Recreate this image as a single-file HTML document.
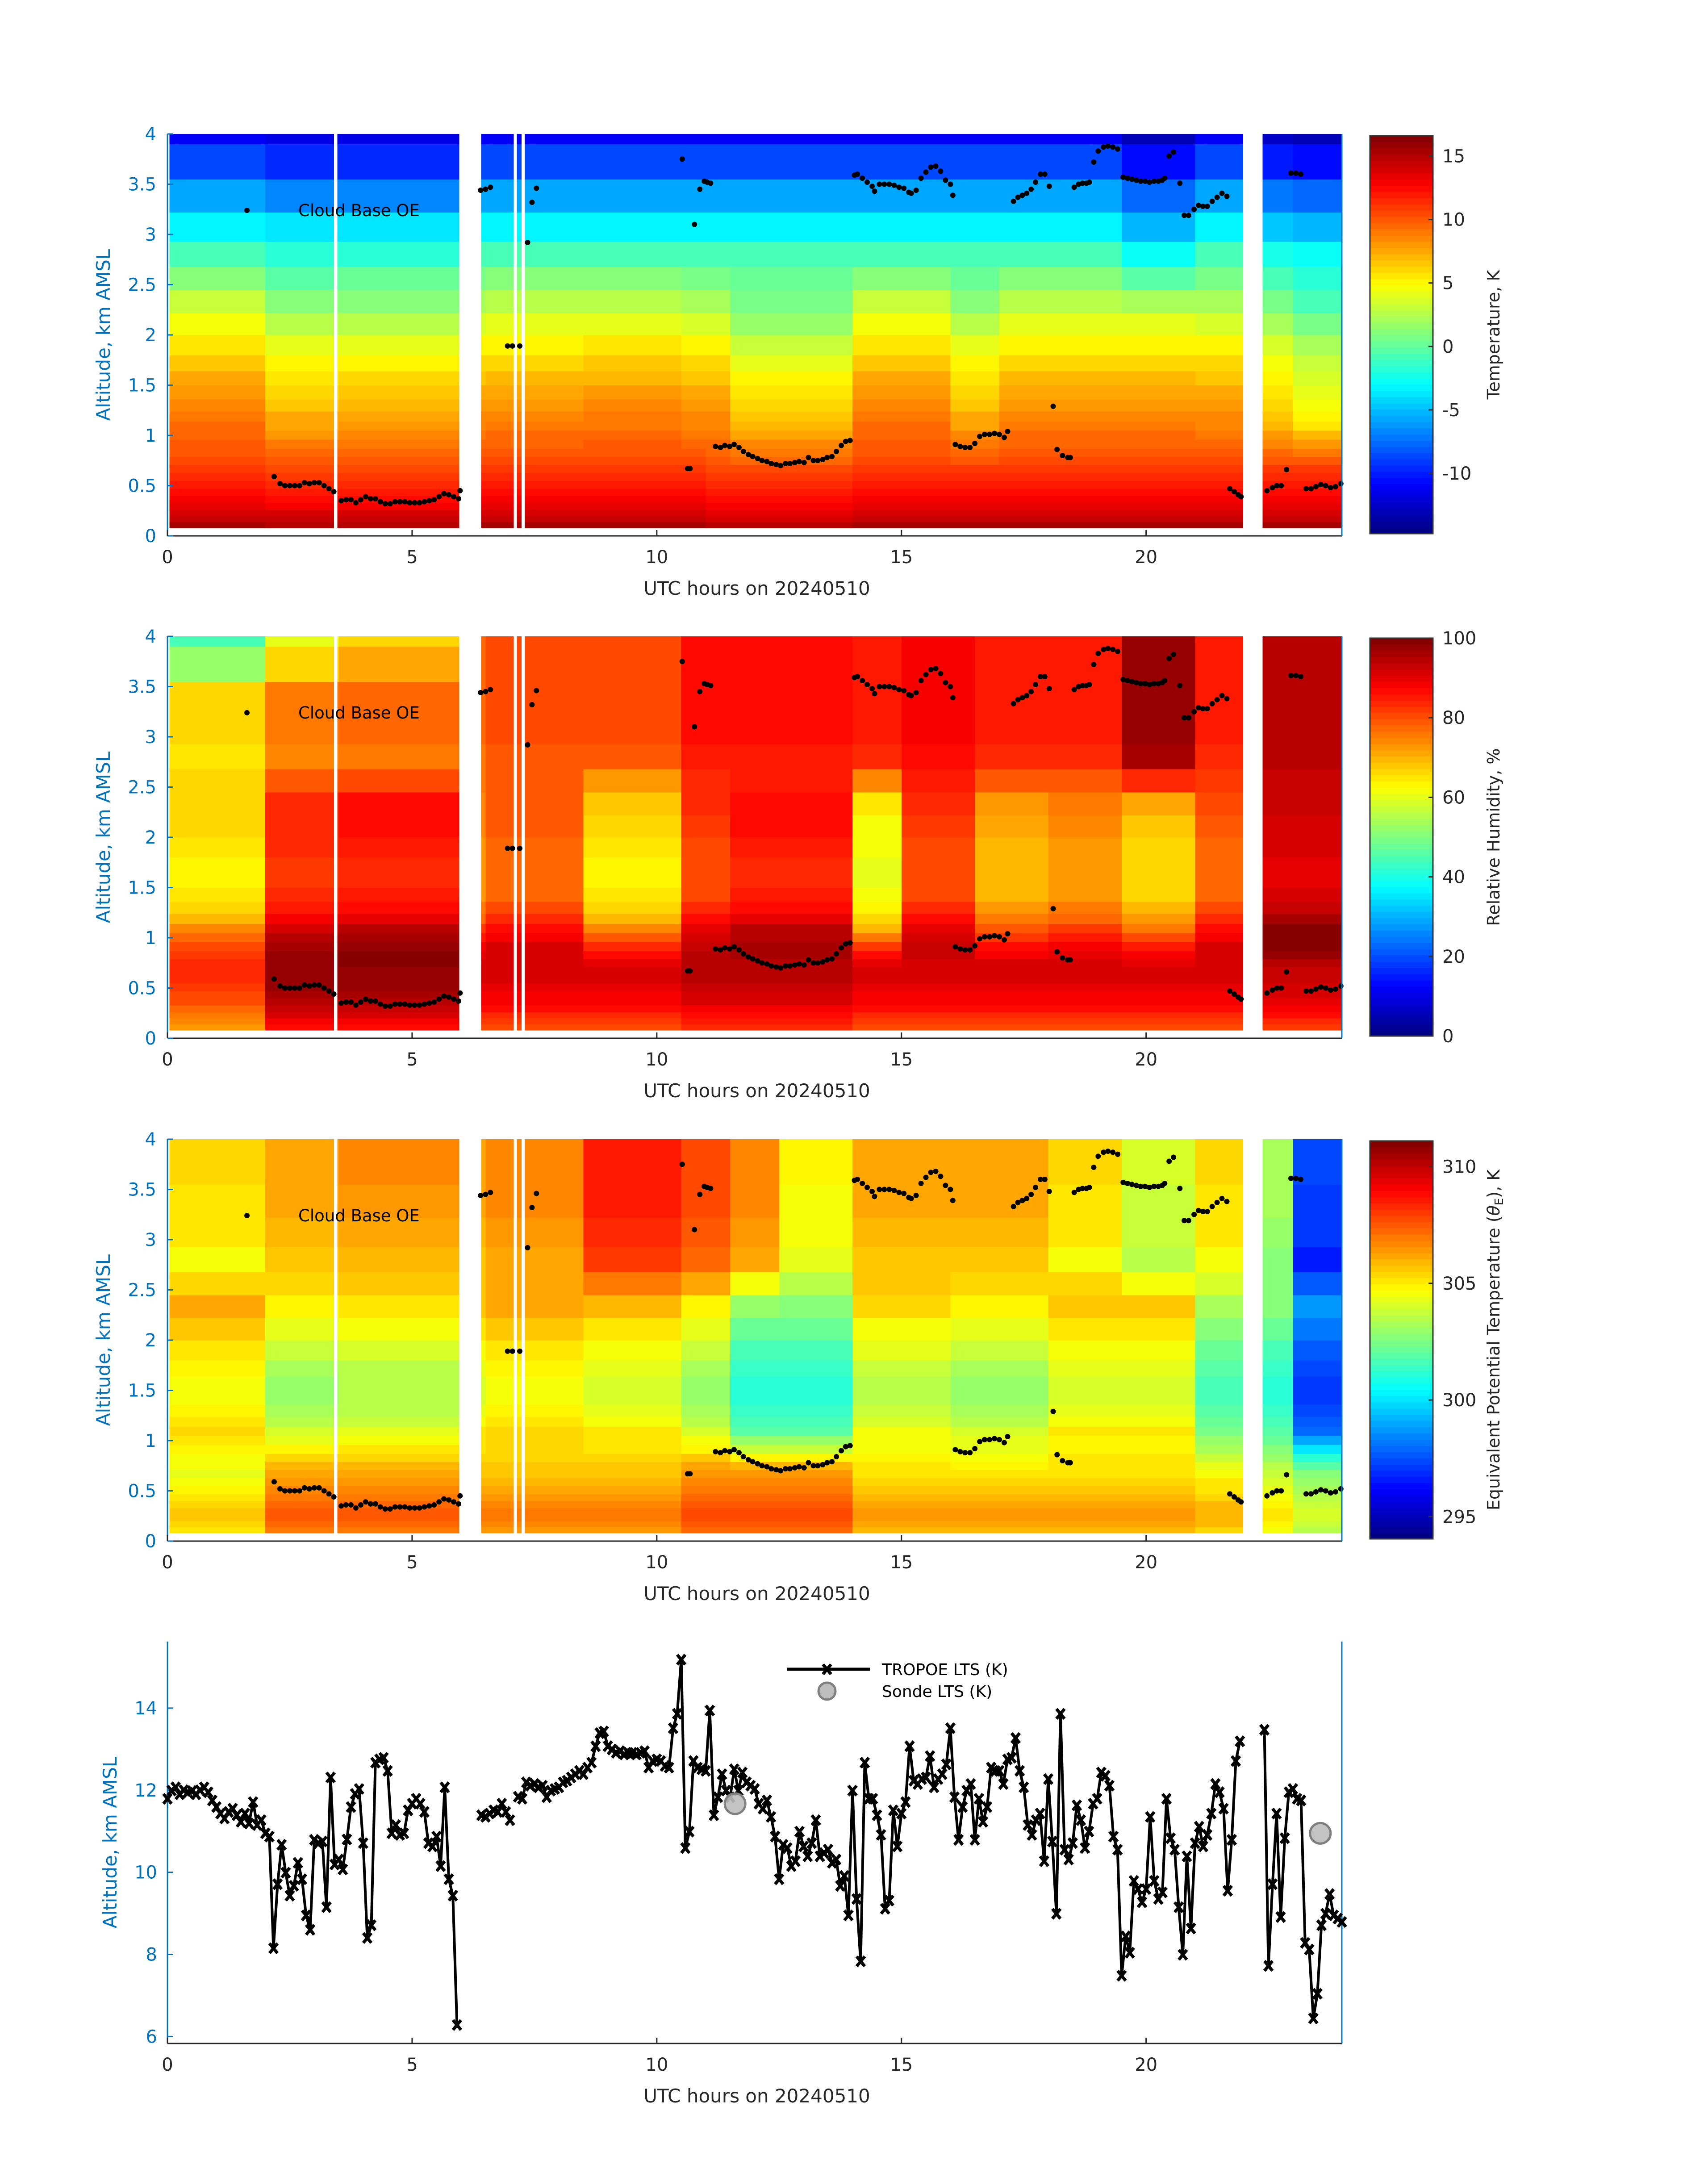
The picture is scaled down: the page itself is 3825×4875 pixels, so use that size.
<!DOCTYPE html>
<html><head><meta charset="utf-8"><title>TROPoe 20240510</title>
<style>
html,body{margin:0;padding:0;background:#fff;}
svg{display:block;}
text{font-family:"DejaVu Sans","Liberation Sans",sans-serif;}
</style></head>
<body>
<svg id="fig" xmlns="http://www.w3.org/2000/svg" width="3825" height="4875" viewBox="0 0 3825 4875">
<rect x="0" y="0" width="3825" height="4875" fill="#fff"/>
<g id="layer"></g>
</svg>
<script>
// ---------- shared data ----------
const heightBounds=[0.08,0.14,0.2,0.26,0.33,0.4,0.47,0.55,0.63,0.71,0.79,0.87,0.96,1.05,1.14,1.24,1.36,1.5,1.64,1.8,2.0,2.22,2.45,2.68,2.93,3.22,3.55,3.9,4.0];
const columnHours=[0,0.5,1,1.5,2,2.5,3,3.5,4,4.5,5,5.5,6,6.5,7,7.5,8,8.5,9,9.5,10,10.5,11,11.5,12,12.5,13,13.5,14,14.5,15,15.5,16,16.5,17,17.5,18,18.5,19,19.5,20,20.5,21,21.5,22,22.5,23,23.5];
const dataSpans=[[0.04,3.4],[3.47,5.96],[6.41,7.07],[7.14,7.23],[7.3,21.98],[22.38,24]];

// temperature (C)
const tempBase=[15.2,14.6,14,13.4,12.8,12.3,11.8,11.3,10.8,10.3,9.9,9.5,9.1,8.7,8.3,7.8,7.3,6.7,6,5,3.6,2.2,0.8,-0.8,-3,-5.8,-8.8,-11];
const tempLow=[0,0,0,0,-0.3,-0.3,-0.3,-0.3,-0.3,-0.3,-0.3,-0.3,0,0,0,0,0,0,0,0,0,0,-0.5,-0.5,-0.5,-0.5,-0.5,-0.5,0,0,0,0,0,0,0,0,0,0,0,0,0,0,0,0,0,0,0,0];
const tempMid=[0.8,0.8,0.8,0.8,-1,-1,-1,-0.8,-0.8,-0.8,-0.8,-0.8,0,0.3,0.3,0.3,0.3,0.5,0.5,0.5,0.5,0,0,-1.8,-1.8,-1.8,-1.8,-1.8,0.8,0.8,0.8,0.8,-1,-1,0.3,0.3,0.3,0.3,0.3,0.3,0.3,0.3,0,0,-1.5,-1.5,-3,-3];
const tempHigh=[0,0,0,0,-0.8,-0.8,-0.8,-0.8,-0.8,-0.8,-0.8,-0.8,0,0,0,0,0,0,0,0,0,0,0,0,0,0,0,0,0,0,0,0,0,0,0,0,0,0,0,-2,-2,-2,0,0,-1.5,-1.5,-2,-2];
const tempTop=[0,0,0,0,0,0,0,0,0,0,0,0,0,0,0,0,0,0,0,0,0,0,0,0,0,0,0,0,0,0,0,0,0,0,0,0,0,0,0,0,0,0,0,0,0,0,0,0];

// relative humidity (%)
const rhBase=[80,82,84,86,88,89,90,91,91,91,90,88,85,82,78,75,73,72,72,73,74,75,77,79,80,80,80,80];
const rhLow=[-8,-8,-8,-8,7,7,7,7,7,7,7,7,0,0,0,0,0,0,0,0,0,3,3,3,3,3,3,3,0,0,0,0,0,0,0,0,0,0,0,0,0,0,0,0,2,2,2,2];
const rhMid=[-8,-8,-8,-8,10,10,10,12,12,12,12,12,0,5,5,5,5,-8,-8,-8,-8,8,8,12,12,12,12,12,-12,-12,8,8,8,-3,-3,-3,0,0,0,-6,-6,-6,5,5,18,18,18,18];
const rhHigh=[-14,-14,-14,-14,-5,-5,-5,-3,-3,-3,-3,-3,-3,0,0,0,0,0,0,0,0,6,6,6,6,6,6,6,5,5,8,8,8,5,5,5,5,5,5,17,17,17,5,5,15,15,15,15];
const rhTop=[-22,-22,-22,-22,-15,-15,-15,-10,-10,-10,-10,-10,0,0,0,0,0,0,0,0,0,0,0,0,0,0,0,0,0,0,0,0,0,0,0,0,0,0,0,0,0,0,0,0,0,0,0,0];

// equivalent potential temperature (K)
const theBase=[306.5,306.8,307,307,306.8,306.5,306.2,306,305.7,305.4,305,304.6,304.3,304,303.6,303.3,303.1,303.1,303.3,303.7,304.2,304.8,305.3,305.7,306,306.2,306.3,306.3];
const theLow=[-1.3,-1.3,-1.3,-1.3,0.5,0.5,0.5,0.5,0.5,0.5,0.5,0.5,0,0,0,0,0,0,0,0,0,0.8,0.8,0.8,0.8,0.8,0.8,0.8,-0.5,-0.5,-0.5,-0.5,-0.5,-0.5,-0.5,-0.5,-0.5,-0.5,-0.5,-0.5,-0.5,-0.5,-1,-1,-2,-2,-3,-3];
const theMid=[1.5,1.5,1.5,1.5,0,0,0,0.3,0.3,0.3,0.3,0.3,1,1.5,1.5,1.5,1.5,1,1,1,1,0,0,-2,-2,-2,-2,-2,0.5,0.5,0.5,0.5,0,0,0,0,1,1,1,1,1,1,-1.5,-1.5,-2,-2,-6,-6];
const theHigh=[-1,-1,-1,-1,0,0,0,0.3,0.3,0.3,0.3,0.3,0,0.5,0.5,0.5,0.5,2.3,2.3,2.3,2.3,1.5,1.5,0.5,0.5,-1.5,-1.5,-1.5,0,0,0,0,0,0,0,0,-1,-1,-1,-2.3,-2.3,-2.3,-1,-1,-3,-3,-9,-9];
const theTop=[0,0,0,0,0,0,0,0,0,0,0,0,0,0,0,0,0,0,0,0,0,0,0,0,0,0,0,0,0,0,0,0,0,0,0,0,0,0,0,0,0,0,0,0,0,0,0,0];

// cloud base (UTC hour, km)
const cbHours=[2.18,2.3,2.4,2.5,2.6,2.7,2.8,2.9,3.0,3.1,3.2,3.3,3.4,3.55,3.65,3.75,3.85,3.95,4.05,4.15,4.25,4.35,4.45,4.55,4.65,4.75,4.85,4.95,5.05,5.15,5.25,5.35,5.45,5.55,5.65,5.75,5.85,5.95,5.98,6.4,6.5,6.6,6.95,7.05,7.2,7.36,7.45,7.54,10.52,10.63,10.68,10.77,10.88,10.97,11.03,11.1,
11.2,11.3,11.39,11.49,11.58,11.68,11.77,11.87,11.96,12.06,12.15,12.25,12.34,12.44,12.53,12.63,12.72,12.82,12.91,13.01,13.1,13.2,13.29,13.39,13.48,13.58,13.67,13.77,13.86,13.95,
14.04,14.1,14.2,14.3,14.4,14.45,14.55,14.65,14.75,14.85,14.95,15.05,15.15,15.2,15.3,15.4,15.5,15.6,15.7,15.8,15.9,16.0,16.05,
16.1,16.2,16.3,16.4,16.5,16.6,16.7,16.8,16.9,17.0,17.1,17.17,
17.29,17.38,17.47,17.56,17.65,17.74,17.84,17.93,18.02,18.1,18.18,18.29,18.4,18.45,
18.53,18.62,18.7,18.78,18.84,18.93,19.02,19.13,19.22,19.32,19.42,
19.53,19.62,19.71,19.8,19.89,19.98,20.07,20.16,20.25,20.33,20.38,20.47,20.56,20.69,20.78,20.87,20.98,21.07,21.16,21.25,21.35,21.45,21.55,21.65,21.71,21.8,21.88,21.94,
22.47,22.58,22.67,22.76,22.87,22.96,23.06,23.16,23.27,23.37,23.47,23.57,23.67,23.77,23.87,23.98];
const cbKm=[0.59,0.52,0.5,0.5,0.5,0.5,0.53,0.52,0.53,0.53,0.5,0.47,0.44,0.35,0.36,0.36,0.33,0.36,0.39,0.37,0.37,0.34,0.32,0.32,0.34,0.34,0.34,0.33,0.33,0.33,0.34,0.35,0.36,0.39,0.42,0.41,0.39,0.37,0.45,3.44,3.45,3.47,1.89,1.89,1.89,2.92,3.32,3.46,3.75,0.67,0.67,3.10,3.45,3.53,3.52,3.51,
0.89,0.88,0.9,0.89,0.91,0.88,0.84,0.81,0.79,0.77,0.75,0.74,0.72,0.71,0.70,0.72,0.72,0.73,0.74,0.73,0.78,0.75,0.75,0.76,0.78,0.79,0.84,0.9,0.94,0.95,
3.59,3.6,3.56,3.52,3.48,3.43,3.5,3.5,3.5,3.49,3.47,3.46,3.42,3.41,3.44,3.56,3.62,3.67,3.68,3.63,3.54,3.5,3.39,
0.91,0.89,0.88,0.88,0.92,0.99,1.01,1.01,1.02,1.01,0.98,1.04,
3.33,3.37,3.39,3.41,3.45,3.52,3.6,3.6,3.48,1.29,0.86,0.8,0.78,0.78,
3.47,3.5,3.51,3.51,3.52,3.72,3.83,3.87,3.88,3.87,3.85,
3.57,3.56,3.55,3.54,3.53,3.53,3.52,3.53,3.53,3.54,3.56,3.78,3.82,3.51,3.19,3.19,3.25,3.29,3.28,3.28,3.33,3.37,3.41,3.38,0.47,0.44,0.41,0.39,
0.45,0.48,0.5,0.5,0.66,3.61,3.61,3.6,0.47,0.47,0.49,0.51,0.5,0.48,0.49,0.52];

// LTS (minutes of day, K)
const ltsMinutes=[0,5,10,15,20,25,30,35,40,45,50,55,60,65,70,75,80,85,90,95,100,105,110,115,120,125,130,135,140,145,150,155,160,165,170,175,180,185,190,195,200,205,210,215,220,225,230,235,240,245,250,255,260,265,270,275,280,285,290,295,300,305,310,315,320,325,330,335,340,345,350,355,
385,390,395,400,405,410,415,420,
430,435,440,445,450,455,460,465,470,475,480,485,490,495,500,505,510,515,520,525,530,535,540,545,550,555,560,565,570,575,580,585,590,595,600,605,610,615,620,625,630,635,640,645,650,655,660,665,670,675,680,685,690,695,700,705,710,715,720,725,730,735,740,745,750,755,760,765,770,775,780,785,790,795,800,805,810,815,820,825,830,835,840,845,850,855,860,865,870,875,880,885,890,895,900,905,910,915,920,925,930,935,940,945,950,955,960,965,970,975,980,985,990,995,1000,1005,1010,1015,1020,1025,1030,1035,1040,1045,1050,1055,1060,1065,1070,1075,1080,1085,1090,1095,1100,1105,1110,1115,1120,1125,1130,1135,1140,1145,1150,1155,1160,1165,1170,1175,1180,1185,1190,1195,1200,1205,1210,1215,1220,1225,1230,1235,1240,1245,1250,1255,1260,1265,1270,1275,1280,1285,1290,1295,1300,1305,1310,1315,
1345,1350,1355,1360,1365,1370,1375,1380,1385,1390,1395,1400,1405,1410,1415,1420,1425,1430,1435,1440];
const ltsValues=[11.79,11.99,12.07,11.9,12.0,11.95,11.98,11.9,12.0,12.07,11.95,11.75,11.59,11.43,11.31,11.47,11.55,11.39,11.23,11.43,11.19,11.71,11.15,11.27,10.95,10.87,8.15,9.71,10.67,9.99,9.43,9.67,10.23,9.83,8.95,8.6,10.79,10.71,10.75,9.15,12.31,10.19,10.31,10.07,10.8,11.59,11.91,12.03,10.71,8.4,8.71,12.67,12.75,12.79,12.47,10.95,11.15,10.91,10.95,11.51,11.67,11.79,11.67,11.47,10.71,10.63,10.87,10.15,12.07,9.83,9.43,6.28,
11.39,11.35,11.43,11.51,11.47,11.67,11.47,11.27,
11.84,11.79,12.19,12.11,12.15,12.07,12.11,11.83,11.99,12.03,12.07,12.19,12.23,12.31,12.39,12.47,12.39,12.55,12.67,13.07,13.39,13.43,13.07,12.99,12.91,12.95,12.87,12.91,12.91,12.87,12.91,12.95,12.55,12.71,12.75,12.71,12.59,12.55,13.51,13.86,15.18,10.59,10.99,12.71,12.55,12.51,12.47,13.94,11.39,11.83,12.39,11.99,11.83,12.51,11.99,12.43,12.19,12.11,12.03,11.67,11.55,11.75,11.35,10.87,9.83,10.67,10.59,10.15,10.27,10.99,10.63,10.39,10.71,11.27,10.39,10.47,10.55,10.23,10.31,9.67,9.91,8.95,11.99,9.35,7.83,12.67,11.79,11.79,11.39,10.91,9.11,9.31,11.51,10.63,11.43,11.71,13.07,12.23,12.15,12.27,12.31,12.83,12.07,12.27,12.39,12.63,13.51,11.83,10.79,11.59,11.99,12.15,10.79,11.79,11.23,11.59,12.55,12.47,12.47,12.15,12.75,12.79,13.27,12.47,12.07,11.15,10.91,11.27,11.43,10.27,12.27,10.75,8.99,13.86,10.55,10.31,10.71,11.63,11.27,10.59,10.99,11.67,11.79,12.43,12.35,12.11,10.87,10.55,7.48,8.44,8.04,9.79,9.59,9.27,9.59,11.35,9.79,9.35,9.51,11.79,10.83,10.55,9.15,7.99,10.39,8.63,10.71,11.11,10.63,10.91,11.43,12.15,11.95,11.55,9.55,10.79,12.71,13.19,
13.47,7.72,9.71,11.43,8.91,10.83,11.95,12.03,11.79,11.75,8.28,8.12,6.44,7.04,8.71,8.99,9.47,8.95,8.87,8.79];
const sondeHours=[11.6,23.56];
const sondeValues=[11.67,10.95];

const heatTicks=["0","0.5","1","1.5","2","2.5","3","3.5","4"];
const hourTicks=[0,5,10,15,20];
const ltsTicks=[6,8,10,12,14];
const tempCbTicks=[-10,-5,0,5,10,15];
const rhCbTicks=[0,20,40,60,80,100];
const theCbTicks=[295,300,305,310];

// ---------- layout ----------
const NS="http://www.w3.org/2000/svg";
const layer=document.getElementById('layer');
const X0=375,X1=3005,PH=900;
const tops=[300,1425,2551,3676];
const CBX=3068,CBW=141;
function xh(h){return X0+(X1-X0)*h/24;}
function yk(top,z){return top+(4-z)/4*PH;}
function el(tag,attrs,parent){const e=document.createElementNS(NS,tag);for(const k in attrs)e.setAttribute(k,attrs[k]);(parent||layer).appendChild(e);return e;}
function jet(f){f=Math.max(0,Math.min(0.99999,f));f=(Math.floor(f*64)+0.5)/64;
 const c=v=>Math.round(255*Math.max(0,Math.min(1,v)));
 return 'rgb('+c(1.5-Math.abs(4*f-3))+','+c(1.5-Math.abs(4*f-2))+','+c(1.5-Math.abs(4*f-1))+')';}
function clamp(v){return Math.max(0,Math.min(1,v));}
const BLUE="#0072BD",GRAY="#262626";

function heatPanel(pi,base,low,mid,high,topA,vmin,vmax,key){
 const top=tops[pi];
 const g=el('g',{});
 
 
 for(let r=0;r<heightBounds.length-1;r++){
  const z0=heightBounds[r],z1=heightBounds[r+1],zc=(z0+z1)/2;
  const wl=clamp((1.1-zc)/0.4),wh=clamp((zc-2.3)/0.5),wm=Math.max(0,1-wl-wh),wt=zc>3.85?1:(zc>3.55?0.6:0);
  for(let i=0;i<columnHours.length;i++){
   const v=base[r]+wl*low[i]+wm*mid[i]+wh*high[i]+wt*topA[i];
   const col=jet((v-vmin)/(vmax-vmin));
   const c0=columnHours[i],c1=c0+0.5;
   for(const s of dataSpans){
    const a=Math.max(s[0],c0),b=Math.min(s[1],c1);
    if(b<=a)continue;
    const rc=el('rect',{x:xh(a).toFixed(1),y:yk(top,z1).toFixed(1),width:(xh(b)-xh(a)+0.6).toFixed(1),height:(yk(top,z0)-yk(top,z1)+0.6).toFixed(1),fill:col,'shape-rendering':'crispEdges'},g);
    
    
   }
  }
 }
 const cg=el('g',{});
 
 
 for(let k=0;k<cbHours.length;k++){
  const d=el('circle',{cx:xh(cbHours[k]).toFixed(1),cy:yk(top,cbKm[k]).toFixed(1),r:6,fill:'#000'},cg);
  
  
 }
 const lm=el('circle',{cx:553,cy:yk(top,3.24),r:6,fill:'#000'});
 
 
 const lt=el('text',{x:668,y:yk(top,3.24)+13,'font-size':37,fill:'#000'});
 lt.textContent='Cloud Base OE';
 
 
 const bottom=top+PH;
 const ax=el('line',{x1:X0,y1:bottom,x2:X1,y2:bottom,stroke:GRAY,'stroke-width':3});
 
 
 const ay=el('line',{x1:X0,y1:top,x2:X0,y2:bottom,stroke:BLUE,'stroke-width':3});
 
 
 const ar=el('line',{x1:X1,y1:top,x2:X1,y2:bottom,stroke:BLUE,'stroke-width':3});
 
 
 heatTicks.forEach((lab,j)=>{
  const z=parseFloat(lab),y=yk(top,z);
  const tk=el('line',{x1:X0,y1:y,x2:X0+13,y2:y,stroke:BLUE,'stroke-width':3});
  
  
  const t=el('text',{x:350,y:y+14,'font-size':40,fill:BLUE,'text-anchor':'end'});
  t.textContent=lab;
  
  
 });
 xAxisTicks(top);
 yLabel(top,231);
}
function xAxisTicks(top){
 const bottom=top+PH;
 hourTicks.forEach(h=>{
  const x=xh(h);
  const tk=el('line',{x1:x,y1:bottom,x2:x,y2:bottom-13,stroke:GRAY,'stroke-width':3});
  
  
  const t=el('text',{x:x,y:bottom+61,'font-size':40,fill:GRAY,'text-anchor':'middle'});
  t.textContent=String(h);
  
  
 });
 const xl=el('text',{x:1695,y:bottom+132,'font-size':42,fill:GRAY,'text-anchor':'middle'});
 xl.textContent='UTC hours on 20240510';
 
 
}
function yLabel(top,cx){
 const cy=top+PH/2;
 const t=el('text',{x:cx,y:cy,'font-size':42,fill:BLUE,'text-anchor':'middle',transform:'rotate(-90 '+cx+' '+cy+') translate(0 15)'});
 t.textContent='Altitude, km AMSL';
 
 
}
function colorbar(pi,vmin,vmax,ticks,label,key){
 const top=tops[pi]+4,bot=tops[pi]+895,h=bot-top;
 const g=el('g',{});
 
 
 for(let k=0;k<64;k++){
  const r=el('rect',{x:CBX,y:(bot-(k+1)*h/64).toFixed(1),width:CBW,height:(h/64+0.7).toFixed(1),fill:jet((k+0.5)/64),'shape-rendering':'crispEdges'},g);
  
  
 }
 const b=el('rect',{x:CBX,y:top,width:CBW,height:h,fill:'none',stroke:'#333','stroke-width':3},g);
 
 
 ticks.forEach(v=>{
  const y=bot-(v-vmin)/(vmax-vmin)*h;
  const tk=el('line',{x1:CBX+CBW-10,y1:y,x2:CBX+CBW,y2:y,stroke:'#333','stroke-width':3},g);
  
  
  const t=el('text',{x:3230,y:y+14,'font-size':40,fill:GRAY},g);
  t.textContent=String(v);
  
  
 });
 const cx=3345,cy=(top+bot)/2;
 const t=el('text',{x:cx,y:cy,'font-size':38,fill:GRAY,'text-anchor':'middle',transform:'rotate(-90 '+cx+' '+cy+') translate(0 13)'},g);
 t.innerHTML=label;
 
 
}

heatPanel(0,tempBase,tempLow,tempMid,tempHigh,tempTop,-14.75,16.6,'temperature');
colorbar(0,-14.75,16.6,tempCbTicks,'Temperature, K','temperature');
heatPanel(1,rhBase,rhLow,rhMid,rhHigh,rhTop,0,100,'humidity');
colorbar(1,0,100,rhCbTicks,'Relative Humidity, %','humidity');
heatPanel(2,theBase,theLow,theMid,theHigh,theTop,294.05,311.1,'theta-e');
colorbar(2,294.05,311.1,theCbTicks,'Equivalent Potential Temperature (<tspan font-style="italic">θ</tspan><tspan font-size="26" dy="8">E</tspan><tspan dy="-8">), K</tspan>','theta-e');

// ---------- LTS panel ----------
(function(){
 const top=tops[3],bottom=top+PH,vmin=5.83,vmax=15.62;
 const yv=v=>bottom-(v-vmin)/(vmax-vmin)*PH;
 const ax=el('line',{x1:X0,y1:bottom,x2:X1,y2:bottom,stroke:GRAY,'stroke-width':3});
 
 
 const ay=el('line',{x1:X0,y1:top,x2:X0,y2:bottom,stroke:BLUE,'stroke-width':3});
 
 
 const ar=el('line',{x1:X1,y1:top,x2:X1,y2:bottom,stroke:BLUE,'stroke-width':3});
 
 
 ltsTicks.forEach(v=>{
  const y=yv(v);
  const tk=el('line',{x1:X0,y1:y,x2:X0+13,y2:y,stroke:BLUE,'stroke-width':3});
  
  
  const t=el('text',{x:352,y:y+14,'font-size':40,fill:BLUE,'text-anchor':'end'});
  t.textContent=String(v);
  
  
 });
 xAxisTicks(top);
 yLabel(top,246);
 let d='';
 for(let k=0;k<ltsMinutes.length;k++){
  const x=xh(ltsMinutes[k]/60).toFixed(1),y=yv(ltsValues[k]).toFixed(1);
  const brk=k===0||ltsMinutes[k]-ltsMinutes[k-1]>5;
  d+=(brk?'M':'L')+x+' '+y+' ';
 }
 const p=el('path',{d:d,fill:'none',stroke:'#000','stroke-width':6,'stroke-linejoin':'round'});
 
 
 const mg=el('g',{});
 
 
 function xmark(x,y,parent){
  return el('path',{d:'M'+(x-9)+' '+(y-11)+'L'+(x+9)+' '+(y+11)+'M'+(x+9)+' '+(y-11)+'L'+(x-9)+' '+(y+11),stroke:'#000','stroke-width':7,fill:'none'},parent);
 }
 for(let k=0;k<ltsMinutes.length;k++){
  const m=xmark(xh(ltsMinutes[k]/60),yv(ltsValues[k]),mg);
  
  
 }
 for(let k=0;k<sondeHours.length;k++){
  const c=el('circle',{cx:xh(sondeHours[k]),cy:yv(sondeValues[k]),r:23,fill:'#bdbdbd',stroke:'#7f7f7f','stroke-width':5,'fill-opacity':0.9});
  
  
 }
 const ll=el('line',{x1:1763,y1:3738,x2:1948,y2:3738,stroke:'#000','stroke-width':7});
 
 
 const lx=xmark(1852,3738,layer);
 
 
 const lt=el('text',{x:1975,y:3751,'font-size':36,fill:'#000'});
 lt.textContent='TROPOE LTS (K)';
 
 
 const lc=el('circle',{cx:1852,cy:3787,r:19,fill:'#bdbdbd',stroke:'#7f7f7f','stroke-width':5});
 
 
 const ls=el('text',{x:1975,y:3800,'font-size':36,fill:'#000'});
 ls.textContent='Sonde LTS (K)';
 
 
})();
</script>
</body></html>
